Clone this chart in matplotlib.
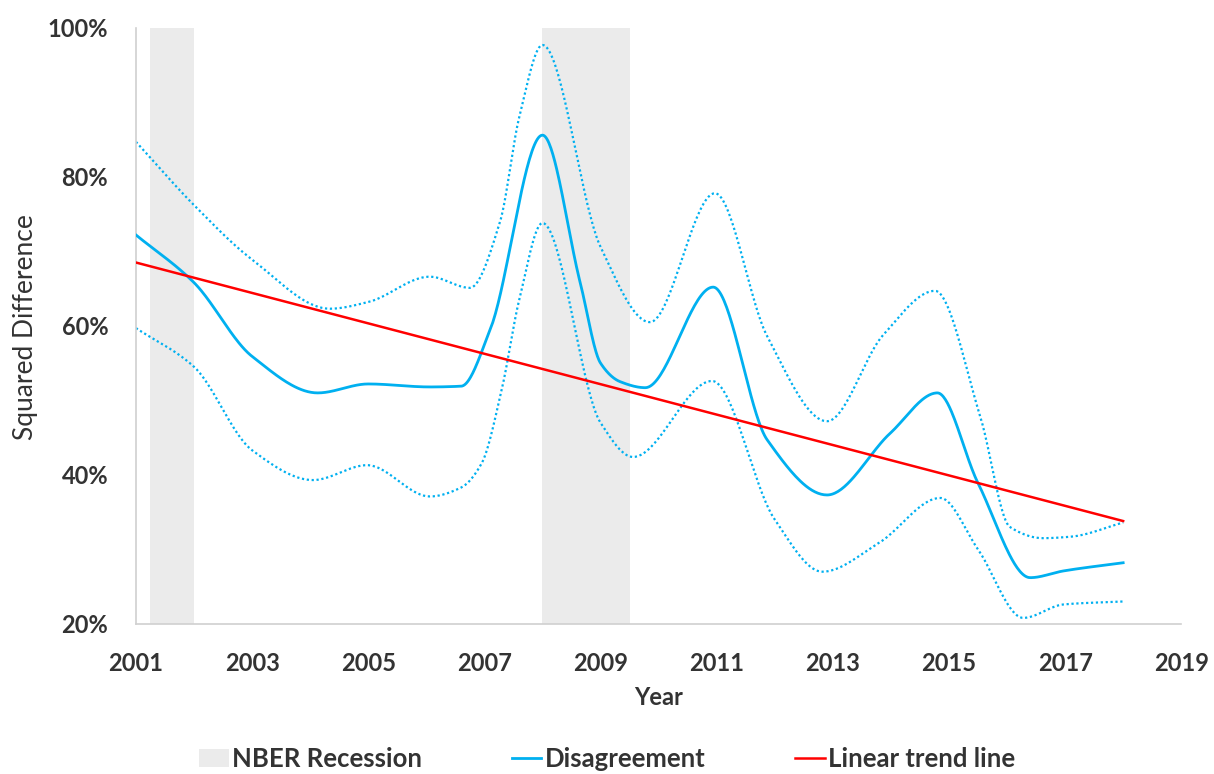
import numpy as np
import matplotlib
matplotlib.use("Agg")
import matplotlib.pyplot as plt
from matplotlib.patches import Patch
from matplotlib.lines import Line2D

# values (year, percent)
mid_years = [2001.0, 2002.0, 2003.0, 2004.13, 2005.0, 2006.06, 2006.6, 2007.1, 2008.0,
             2008.65, 2009.0, 2009.34, 2009.77, 2010.94, 2011.87, 2012.9, 2013.99, 2014.8,
             2015.5, 2016.4, 2016.97, 2018.0]
mid_vals = [72.2, 65.8, 55.9, 51.0, 52.2, 51.8, 51.9, 59.5, 85.6,
            65.8, 55.0, 52.5, 51.7, 65.2, 44.7, 37.3, 45.6, 51.0,
            38.9, 26.2, 27.1, 28.2]

up_years = [2001.0, 2002.0, 2003.0, 2004.34, 2005.0, 2006.06, 2006.75, 2007.27, 2007.6, 2008.0,
            2009.0, 2009.85, 2010.97, 2011.87, 2012.9, 2013.87, 2014.76, 2015.54, 2016.05,
            2016.62, 2017.1, 2018.0]
up_vals = [84.7, 76.2, 68.9, 62.3, 63.2, 66.6, 65.1, 74.0, 88.0, 97.7,
           70.6, 60.5, 77.8, 58.6, 47.2, 58.8, 64.7, 47.8, 33.0,
           31.5, 31.7, 33.6]

lo_years = [2001.0, 2002.0, 2003.0, 2004.05, 2004.98, 2006.06, 2006.6, 2006.95, 2007.3, 2007.6,
            2008.0, 2009.0, 2009.56, 2010.92, 2012.0, 2012.82, 2013.8, 2014.85, 2015.5,
            2016.28, 2016.97, 2018.0]
lo_vals = [59.7, 54.5, 43.3, 39.3, 41.3, 37.1, 38.3, 41.5, 51.5, 63.5,
           73.8, 47.0, 42.4, 52.6, 34.0, 27.0, 30.9, 36.9, 30.0,
           20.8, 22.6, 23.0]

trend_years = [2001.0, 2018.0]
trend_vals = [68.5, 33.8]

recessions = [(2001.25, 2002.0), (2008.0, 2009.5)]


def smooth(xs, ys, n=40):
    # monotone hermite curve (pchip style) through the points
    xs = np.asarray(xs, float)
    ys = np.asarray(ys, float)
    h = np.diff(xs)
    d = np.diff(ys) / h
    m = np.zeros_like(ys)
    for i in range(1, len(ys) - 1):
        if d[i - 1] * d[i] > 0:
            w1 = 2 * h[i] + h[i - 1]
            w2 = h[i] + 2 * h[i - 1]
            m[i] = (w1 + w2) / (w1 / d[i - 1] + w2 / d[i])
    m[0] = d[0]
    m[-1] = d[-1]
    ox, oy = [], []
    for i in range(len(xs) - 1):
        t = np.linspace(0, 1, n, endpoint=False)
        h00 = 2 * t**3 - 3 * t**2 + 1
        h10 = t**3 - 2 * t**2 + t
        h01 = -2 * t**3 + 3 * t**2
        h11 = t**3 - t**2
        ox.extend(xs[i] + t * h[i])
        oy.extend(h00 * ys[i] + h10 * h[i] * m[i] + h01 * ys[i + 1] + h11 * h[i] * m[i + 1])
    ox.append(xs[-1])
    oy.append(ys[-1])
    return np.array(ox), np.array(oy)


plt.rcParams['font.family'] = ['Lato', 'DejaVu Sans']
txt = '#333333'
blue = '#00B0F0'

fig = plt.figure(figsize=(12.14, 7.74), dpi=100)
ax = fig.add_axes([0.112, 0.194, 0.861, 0.770])

for a, b in recessions:
    ax.axvspan(a, b, color='#EBEBEB', lw=0, zorder=0)

x, y = smooth(up_years, up_vals)
ax.plot(x, y, color=blue, lw=1.6, ls=(0, (1, 1.2)), zorder=2)
x, y = smooth(lo_years, lo_vals)
ax.plot(x, y, color=blue, lw=1.6, ls=(0, (1, 1.2)), zorder=2)
x, y = smooth(mid_years, mid_vals)
ax.plot(x, y, color=blue, lw=2.0, zorder=3)
ax.plot(trend_years, trend_vals, color='#FF0000', lw=1.8, zorder=4)

ax.set_xlim(2001, 2019)
ax.set_ylim(20, 100)
ax.set_xticks(range(2001, 2020, 2))
ax.set_yticks(range(20, 101, 20))
ax.set_yticklabels([f'{v}%' for v in range(20, 101, 20)])
ax.tick_params(length=0, labelsize=17, labelcolor=txt, pad=20)
for lab in ax.get_xticklabels() + ax.get_yticklabels():
    lab.set_fontweight('bold')

for s in ['top', 'right']:
    ax.spines[s].set_visible(False)
ax.spines['left'].set_color('#D0D0D0')
ax.spines['bottom'].set_color('#D0D0D0')
ax.spines['left'].set_linewidth(1.2)
ax.spines['bottom'].set_linewidth(1.2)

ax.set_xlabel('Year', fontsize=17, fontweight='bold', color=txt, labelpad=8)
fig.text(0.021, 0.578, 'Squared Difference', rotation=90, fontsize=19, color=txt,
         ha='center', va='center')

handles = [Patch(facecolor='#EBEBEB', edgecolor='none'),
           Line2D([], [], color=blue, lw=2.0),
           Line2D([], [], color='#FF0000', lw=1.8)]
fig.legend(handles, ['NBER Recession', 'Disagreement', 'Linear trend line'],
           loc='center', bbox_to_anchor=(0.500, 0.019), ncol=3, frameon=False,
           labelcolor=txt, handlelength=1.15, handletextpad=0.12,
           columnspacing=3.5, borderpad=0.2, prop={'weight': 'bold', 'size': 18.5})

fig.savefig('out.png', dpi=100)
